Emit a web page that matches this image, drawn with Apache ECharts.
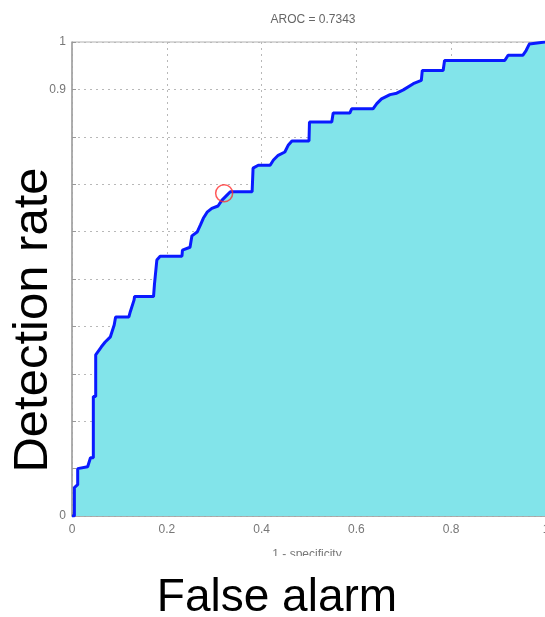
<!DOCTYPE html>
<html>
<head>
<meta charset="utf-8">
<script src="https://cdn.jsdelivr.net/npm/echarts@6/dist/echarts.min.js"></script>
<style>
html,body{margin:0;padding:0;background:#fff;}
#c{width:545px;height:617px;}
</style>
</head>
<body>
<div id="c"></div>
<script>
// ROC curve points (false positive rate, true positive rate)
const fpr = [0, 0.005, 0.005, 0.012, 0.012, 0.033, 0.039, 0.045, 0.045, 0.050, 0.050, 0.062, 0.070, 0.081, 0.089, 0.092, 0.120, 0.123, 0.131, 0.132, 0.172, 0.174, 0.179, 0.186, 0.232, 0.233, 0.249, 0.253, 0.264, 0.271, 0.277, 0.285, 0.295, 0.308, 0.316, 0.327, 0.334, 0.380, 0.382, 0.393, 0.418, 0.425, 0.435, 0.449, 0.456, 0.464, 0.500, 0.501, 0.548, 0.551, 0.586, 0.590, 0.635, 0.643, 0.653, 0.671, 0.685, 0.699, 0.720, 0.737, 0.739, 0.783, 0.786, 0.913, 0.920, 0.951, 0.958, 0.965, 0.968, 1.0];
const tpr = [0, 0, 0.060, 0.066, 0.100, 0.104, 0.123, 0.123, 0.252, 0.252, 0.340, 0.357, 0.367, 0.378, 0.403, 0.420, 0.420, 0.431, 0.456, 0.463, 0.463, 0.489, 0.540, 0.548, 0.548, 0.561, 0.567, 0.591, 0.599, 0.614, 0.628, 0.641, 0.649, 0.654, 0.666, 0.677, 0.684, 0.684, 0.734, 0.740, 0.740, 0.751, 0.761, 0.768, 0.782, 0.791, 0.791, 0.831, 0.831, 0.850, 0.850, 0.859, 0.859, 0.870, 0.880, 0.889, 0.892, 0.899, 0.912, 0.919, 0.940, 0.940, 0.961, 0.961, 0.972, 0.972, 0.982, 0.996, 1.0, 1.0];
// Operating point marked with the red circle
const opX = [0.321];
const opY = [0.681];
// Tick labels
const xTickValues = [0, 0.2, 0.4, 0.6, 0.8, 1];
const xTickLabels = ['0', '0.2', '0.4', '0.6', '0.8', '1'];
const yShownValues = [0, 0.9, 1];
const yShownLabels = ['0', '0.9', '1'];
const titleText = 'AROC = 0.7343';
const xAxisName = '1 - specificity';
const bigXLabel = 'False alarm';
const bigYLabel = 'Detection rate';

const curve = fpr.map((x, i) => [x, tpr[i]]);
const opPts = opX.map((x, i) => [x, opY[i]]);

function near(v, arr) {
  for (let i = 0; i < arr.length; i++) if (Math.abs(v - arr[i]) < 1e-6) return i;
  return -1;
}

const chart = echarts.init(document.getElementById('c'), null, {renderer: 'canvas'});
const FONT = '"Liberation Sans", Arial, sans-serif';
chart.setOption({
  animation: false,
  backgroundColor: '#fff',
  title: {
    text: titleText,
    left: 308, top: 9, textAlign: 'center',
    textStyle: {fontFamily: FONT, fontSize: 12, fontWeight: 'normal', color: '#666'}
  },
  grid: {
    left: 72, top: 42, width: 474, height: 474,
    containLabel: false, outerBoundsMode: 'none',
    show: true, borderColor: '#b0b0b0', borderWidth: 1, backgroundColor: 'transparent'
  },
  xAxis: {
    type: 'value', min: 0, max: 1, interval: 0.2,
    axisLine: {show: true, lineStyle: {color: '#a0a0a0', width: 1.5}},
    axisTick: {show: true, inside: true, length: 4, lineStyle: {color: '#999'}},
    axisLabel: {
      margin: 8, fontFamily: FONT, fontSize: 12, color: '#777',
      formatter: v => { const i = near(v, xTickValues); return i >= 0 ? xTickLabels[i] : ''; }
    },
    splitLine: {show: true, lineStyle: {type: [2, 4], color: '#b8b8b8', width: 1}}
  },
  yAxis: {
    type: 'value', min: 0, max: 1, interval: 0.1,
    axisLine: {show: true, lineStyle: {color: '#a0a0a0', width: 1.5}},
    axisTick: {show: true, inside: true, length: 4, lineStyle: {color: '#999'}},
    axisLabel: {
      margin: 6, fontFamily: FONT, fontSize: 12, color: '#777',
      formatter: v => { const i = near(v, yShownValues); return i >= 0 ? yShownLabels[i] : ''; }
    },
    splitLine: {show: true, lineStyle: {type: [2, 4], color: '#b8b8b8', width: 1}}
  },
  series: [
    {
      type: 'line', data: curve, showSymbol: false, symbol: 'none',
      lineStyle: {color: '#0a1aff', width: 3},
      areaStyle: {color: '#82e4ea', opacity: 1, origin: 'start'},
      z: 3
    },
    {
      type: 'scatter', data: opPts, symbol: 'circle', symbolSize: 17,
      itemStyle: {color: 'rgba(0,0,0,0)', borderColor: '#ff3030', borderWidth: 1.5},
      z: 4
    }
  ],
  graphic: [
    {
      type: 'text', z: 10,
      x: 307, y: 549,
      style: {text: xAxisName, fontFamily: FONT, fontSize: 12, fill: '#777', align: 'center', verticalAlign: 'top'}
    },
    {
      type: 'rect', z: 11,
      shape: {x: 150, y: 556, width: 300, height: 20},
      style: {fill: '#fff'}
    },
    {
      type: 'text', z: 12,
      x: 277, y: 598,
      style: {text: bigXLabel, fontFamily: FONT, fontSize: 46, fill: '#000', align: 'center', verticalAlign: 'middle'}
    },
    {
      type: 'text', z: 12,
      x: 33, y: 320, rotation: Math.PI / 2,
      style: {text: bigYLabel, fontFamily: FONT, fontSize: 49, fill: '#000', align: 'center', verticalAlign: 'middle'}
    }
  ]
});
</script>
</body>
</html>
